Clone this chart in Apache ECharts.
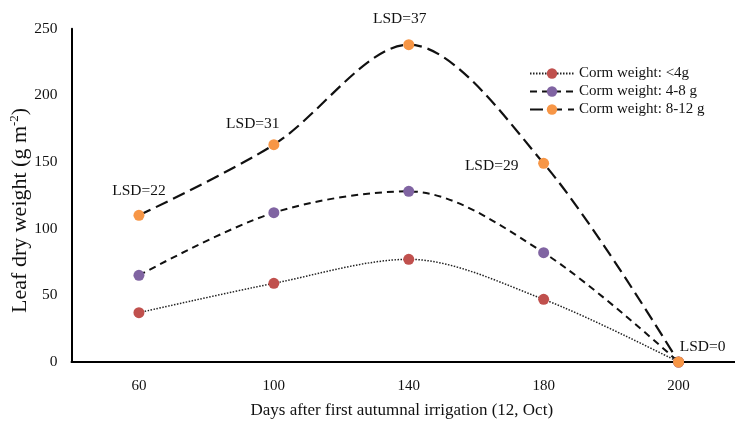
<!DOCTYPE html>
<html>
<head>
<meta charset="utf-8">
<script src="https://cdn.jsdelivr.net/npm/echarts@6/dist/echarts.min.js"></script>
<style>
  html, body { margin: 0; padding: 0; background: #fff; }
  #chart { width: 735px; height: 423px; }
</style>
</head>
<body>
<div id="chart"></div>
<script>
// Days after first autumnal irrigation
const days = ['60', '100', '140', '180', '200'];

// Leaf dry weight (g m-2) by corm weight class
const cormSmall = [37, 59, 77, 47, 0];     // < 4 g
const cormMedium = [65, 112, 128, 82, 0];  // 4-8 g
const cormLarge = [110, 163, 238, 149, 0]; // 8-12 g

// Least significant difference at each sampling date
const lsd = [22, 31, 37, 29, 0];

const seriesNames = ['Corm weight: <4g', 'Corm weight: 4-8 g', 'Corm weight: 8-12 g'];

const serif = '"Liberation Serif", "Times New Roman", serif';

// Where each LSD note sits relative to its point
const lsdOffsets = [[0, -24], [-21, -21], [-9, -26], [-52, 3], [24, -15]];

const largeData = cormLarge.map((v, i) => ({
  value: v,
  label: {
    show: true,
    position: 'inside',
    offset: lsdOffsets[i],
    formatter: 'LSD=' + lsd[i],
    fontFamily: serif,
    fontSize: 15.5,
    color: '#111'
  }
}));

const chart = echarts.init(document.getElementById('chart'), null, { renderer: 'canvas' });

const smoothness = 0.32;

chart.setOption({
  backgroundColor: '#fff',
  animation: false,
  grid: {
    left: 71.5, top: 28.7, width: 674.5, bottom: 61,
    containLabel: false,
    outerBoundsMode: 'none'
  },
  legend: {
    orient: 'vertical',
    left: 524,
    top: 61,
    itemWidth: 44,
    itemHeight: 13,
    itemGap: 3,
    textStyle: { fontFamily: serif, fontSize: 15, color: '#111' },
    data: seriesNames
  },
  xAxis: {
    type: 'category',
    data: days,
    boundaryGap: true,
    axisLine: { lineStyle: { color: '#000', width: 2 } },
    axisTick: { show: false },
    axisLabel: { fontFamily: serif, fontSize: 15, color: '#111', margin: 17 },
    name: 'Days after first autumnal irrigation (12, Oct)',
    nameLocation: 'middle',
    nameGap: 40,
    nameMoveOverlap: false,
    nameTextStyle: { fontFamily: serif, fontSize: 17, color: '#111', padding: [0, 14, 0, 0] }
  },
  yAxis: {
    type: 'value',
    min: 0,
    max: 250,
    interval: 50,
    splitLine: { show: false },
    axisLine: { show: true, lineStyle: { color: '#000', width: 2 } },
    axisTick: { show: false },
    axisLabel: { fontFamily: serif, fontSize: 15.5, color: '#111', margin: 14 },
    name: 'Leaf dry weight (g m{sup|-2})',
    nameLocation: 'middle',
    nameGap: 40,
    nameRotate: 90,
    nameMoveOverlap: false,
    nameTextStyle: {
      fontFamily: serif,
      fontSize: 22,
      color: '#111',
      padding: [0, 30, 0, 0],
      rich: {
        sup: { fontFamily: serif, fontSize: 13, color: '#111', padding: [0, 0, 10, 0] }
      }
    }
  },
  series: [
    {
      name: seriesNames[0],
      type: 'line',
      data: cormSmall,
      smooth: smoothness,
      symbol: 'circle',
      symbolSize: 11,
      itemStyle: { color: '#C0504D' },
      lineStyle: { color: '#222', width: 1.5, type: [1.5, 1.5] },
      z: 2
    },
    {
      name: seriesNames[1],
      type: 'line',
      data: cormMedium,
      smooth: smoothness,
      symbol: 'circle',
      symbolSize: 11,
      itemStyle: { color: '#8064A2' },
      lineStyle: { color: '#111', width: 2, type: [7, 5] },
      z: 3
    },
    {
      name: seriesNames[2],
      type: 'line',
      data: largeData,
      smooth: smoothness,
      symbol: 'circle',
      symbolSize: 11,
      itemStyle: { color: '#F79646' },
      lineStyle: { color: '#111', width: 2.2, type: [13, 6] },
      z: 4
    }
  ]
});
</script>
</body>
</html>
